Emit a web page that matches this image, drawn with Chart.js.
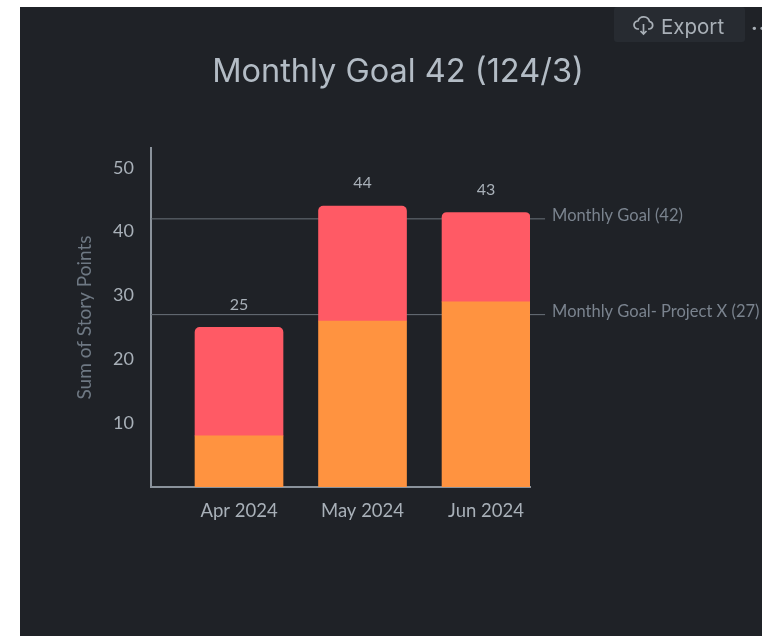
<!DOCTYPE html>
<html>
<head>
<meta charset="utf-8">
<style>
  html, body { margin: 0; height: 100%; background: #fff; overflow: hidden; }
  .panel { position: absolute; left: 20px; top: 7px; width: 742px; height: 629px; background: #1f2227; overflow: hidden; }
  .chart-box { position: absolute; left: 0; top: 0; width: 756px; height: 629px; }
  .export { position: absolute; left: 594px; top: 0; width: 131px; height: 35px; background: #272b31; border-radius: 3px;
    color: #a9b0b7; font: 20.5px Inter, sans-serif; line-height: 39px; }
  .export span { position: absolute; left: 47px; top: 0; }
  .export svg { position: absolute; left: 19px; top: 9px; }
  .more { position: absolute; left: 731px; top: 9px; color: #a9b0b7; font: bold 20px Inter, sans-serif; letter-spacing: 1px; }
</style>
</head>
<body>
<div class="panel">
  <div class="chart-box"><canvas id="storyChart"></canvas></div>
  <div class="export">
    <svg width="22" height="20" viewBox="0 0 22 20" fill="none" stroke="#a9b0b7" stroke-width="1.7">
      <path d="M6 13H5a4 4 0 0 1 0-8 6 6 0 0 1 11.5 0.5A3.8 3.8 0 0 1 16.5 13H15"/>
      <path d="M10.5 8v10M7.5 15l3 3 3-3"/>
    </svg>
    <span>Export</span>
  </div>
  <div class="more">··</div>
</div>
<script src="https://cdn.jsdelivr.net/npm/chart.js@4"></script>
<script>
// CHART DATA
const months = ['Apr 2024', 'May 2024', 'Jun 2024'];
const monthSlots = [0, 1, 2];
const projectX = [8, 26, 29];
const otherPoints = [17, 18, 14];
const totals = [25, 44, 43];
const yTicks = [10, 20, 30, 40, 50];
const goalValues = [42, 27];
const goalLabels = ['Monthly Goal (42)', 'Monthly Goal- Project X (27)'];

const textFont = 'Lato, sans-serif';
const xMin = -0.7126, xMax = 2.356, leaderEnd = 2.478;

// totals above the stacks, and the goal names at the end of the lines
const labelPlugin = {
  id: 'labelPlugin',
  afterDraw(chart) {
    const { ctx, scales: { x, y } } = chart;
    ctx.save();
    ctx.font = '16px ' + textFont;
    ctx.textBaseline = 'middle';

    ctx.fillStyle = '#a8b0b8';
    ctx.textAlign = 'center';
    totals.forEach((t, i) => {
      ctx.fillText(String(t), x.getPixelForValue(monthSlots[i]), y.getPixelForValue(t) - 23);
    });

    ctx.font = '16.5px ' + textFont;
    ctx.fillStyle = '#7a838e';
    ctx.textAlign = 'left';
    goalValues.forEach((g, i) => {
      ctx.fillText(goalLabels[i], x.getPixelForValue(leaderEnd) + 7, y.getPixelForValue(g) - 3);
    });
    ctx.restore();
  }
};

const goalDatasets = goalValues.map((g, i) => ({
  type: 'line',
  label: goalLabels[i],
  data: [{ x: xMin, y: g }, { x: leaderEnd, y: g }],
  borderColor: '#6b727a',
  borderWidth: 1,
  pointRadius: 0,
  clip: false,
  order: 2
}));

new Chart(document.getElementById('storyChart'), {
  data: {
    datasets: [
      {
        type: 'bar',
        label: 'Project X',
        stack: 'points',
        data: projectX.map((v, i) => ({ x: monthSlots[i], y: v })),
        backgroundColor: '#ff9340',
        barThickness: 88,
        order: 1
      },
      {
        type: 'bar',
        label: 'Other',
        stack: 'points',
        data: otherPoints.map((v, i) => ({ x: monthSlots[i], y: v })),
        backgroundColor: '#ff5a65',
        barThickness: 88,
        borderRadius: { topLeft: 5, topRight: 5, bottomLeft: 0, bottomRight: 0 },
        borderSkipped: false,
        order: 1
      },
      ...goalDatasets
    ]
  },
  plugins: [labelPlugin],
  options: {
    responsive: true,
    maintainAspectRatio: false,
    animation: false,
    plugins: {
      legend: { display: false },
      tooltip: { enabled: false },
      title: {
        display: true,
        text: 'Monthly Goal 42 (124/3)',
        color: '#b3bcc5',
        font: { family: 'Inter, sans-serif', size: 32.5, weight: 'normal', lineHeight: 1.2 },
        padding: { top: 46, bottom: 56 }
      }
    },
    scales: {
      x: {
        type: 'linear',
        offset: false,
        min: xMin,
        max: xMax,
        afterBuildTicks(scale) { scale.ticks = monthSlots.map(v => ({ value: v })); },
        afterFit(scale) { scale.height = 149; },
        grid: { display: false },
        border: { color: '#8a929b', width: 2 },
        ticks: {
          color: '#a8b0b8',
          font: { family: textFont, size: 18.5 },
          padding: 5,
          maxRotation: 0,
          autoSkip: false,
          callback: v => months[monthSlots.indexOf(v)]
        }
      },
      y: {
        min: 0,
        max: 53.1,
        afterBuildTicks(scale) { scale.ticks = yTicks.map(v => ({ value: v })); },
        afterFit(scale) { scale.width = 131; },
        grid: { display: false },
        border: { color: '#8a929b', width: 2 },
        title: {
          display: true,
          text: 'Sum of Story Points',
          color: '#6e7883',
          font: { family: textFont, size: 19 },
          padding: { top: 53, bottom: 0 }
        },
        ticks: {
          color: '#a8b0b8',
          font: { family: textFont, size: 18 },
          padding: 9
        }
      },
      // empty axis that keeps room for the goal names on the right
      side: {
        position: 'right',
        afterFit(scale) { scale.width = 246; },
        grid: { display: false },
        border: { display: false },
        ticks: { display: false }
      }
    }
  }
});
</script>
</body>
</html>
